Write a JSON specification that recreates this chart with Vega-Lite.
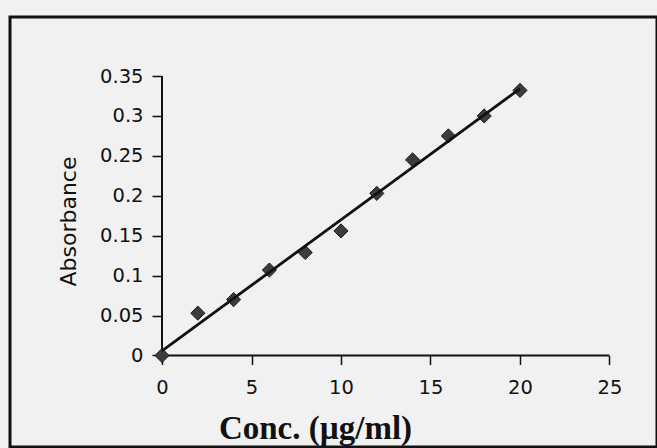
{
  "$schema": "https://vega.github.io/schema/vega-lite/v6.json",
  "autosize": {"type": "none"},
  "padding": {"left": 10, "top": 17, "right": 0, "bottom": 1},
  "width": 647,
  "height": 430,
  "background": "#f1f1f1",
  "config": {
    "view": {"stroke": "#111111", "strokeWidth": 3},
    "axis": {
      "grid": false,
      "domain": false,
      "tickColor": "#111111",
      "tickWidth": 1.5,
      "labelFont": "DejaVu Sans",
      "labelFontSize": 19.5,
      "labelColor": "#111111"
    }
  },
  "datasets": {
    "points": [
      {"conc": 0, "absorbance": 0.0},
      {"conc": 2, "absorbance": 0.053},
      {"conc": 4, "absorbance": 0.07},
      {"conc": 6, "absorbance": 0.107},
      {"conc": 8, "absorbance": 0.129},
      {"conc": 10, "absorbance": 0.156},
      {"conc": 12, "absorbance": 0.203},
      {"conc": 14, "absorbance": 0.245},
      {"conc": 16, "absorbance": 0.275},
      {"conc": 18, "absorbance": 0.3},
      {"conc": 20, "absorbance": 0.332}
    ],
    "axislines": [
      {"conc": 0, "conc2": 25, "absorbance": 0, "absorbance2": 0},
      {"conc": 0, "conc2": 0, "absorbance": 0, "absorbance2": 0.35}
    ]
  },
  "layer": [
    {
      "data": {"name": "axislines"},
      "mark": {"type": "rule", "color": "#111111", "strokeWidth": 2},
      "encoding": {
        "x": {
          "field": "conc", "type": "quantitative",
          "scale": {"domain": [-8.492, 27.654], "nice": false, "zero": false},
          "axis": {
            "orient": "bottom",
            "offset": -91.5,
            "values": [0, 5, 10, 15, 20, 25],
            "tickSize": 9,
            "labelPadding": 14,
            "title": "Conc. (µg/ml)",
            "titleFont": "Liberation Serif",
            "titleFontWeight": "bold",
            "titleFontSize": 33,
            "titleColor": "#111111",
            "titleX": 305,
            "titleY": 82.5,
            "titleAlign": "center",
            "titleBaseline": "alphabetic"
          }
        },
        "x2": {"field": "conc2"},
        "y": {
          "field": "absorbance", "type": "quantitative",
          "scale": {"domain": [-0.1146, 0.4239], "nice": false, "zero": false},
          "axis": {
            "orient": "left",
            "offset": -152,
            "values": [0, 0.05, 0.1, 0.15, 0.2, 0.25, 0.3, 0.35],
            "format": "~g",
            "tickSize": 10,
            "labelPadding": 9,
            "title": "Absorbance",
            "titleFont": "DejaVu Sans",
            "titleFontWeight": "normal",
            "titleFontSize": 22,
            "titleColor": "#111111",
            "titleAngle": -90,
            "titleX": -87,
            "titleY": 204,
            "titleAlign": "center",
            "titleBaseline": "alphabetic"
          }
        },
        "y2": {"field": "absorbance2"}
      }
    },
    {
      "data": {"name": "points"},
      "mark": {"type": "point", "shape": "diamond", "filled": true, "size": 200, "color": "#3c3c3c", "stroke": "#1a1a1a", "strokeWidth": 1, "opacity": 1},
      "encoding": {
        "x": {"field": "conc", "type": "quantitative", "scale": {"domain": [-8.492, 27.654], "nice": false, "zero": false}},
        "y": {"field": "absorbance", "type": "quantitative", "scale": {"domain": [-0.1146, 0.4239], "nice": false, "zero": false}}
      }
    },
    {
      "data": {"name": "points"},
      "transform": [{"regression": "absorbance", "on": "conc"}],
      "mark": {"type": "line", "color": "#111111", "strokeWidth": 2.8},
      "encoding": {
        "x": {"field": "conc", "type": "quantitative", "scale": {"domain": [-8.492, 27.654], "nice": false, "zero": false}},
        "y": {"field": "absorbance", "type": "quantitative", "scale": {"domain": [-0.1146, 0.4239], "nice": false, "zero": false}}
      }
    }
  ]
}
